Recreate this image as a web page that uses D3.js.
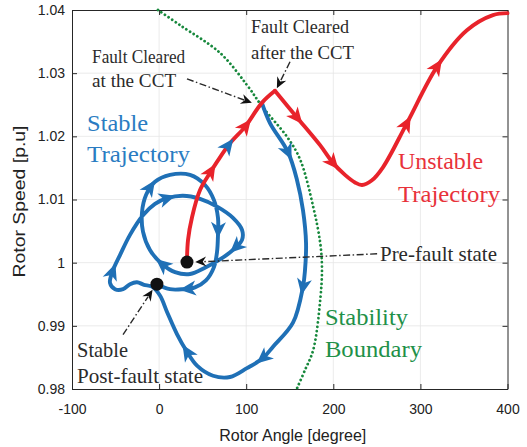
<!DOCTYPE html>
<html>
<head>
<meta charset="utf-8">
<script src="https://cdn.jsdelivr.net/npm/d3@7/dist/d3.min.js"></script>
<style>
  html, body { margin: 0; padding: 0; background: #fff; }
  svg { display: block; }
</style>
</head>
<body>
<svg id="chart" width="527" height="447"></svg>
<script>
// Axis ticks
const angleTicks = [-100, 0, 100, 200, 300, 400];
const speedTicks = [0.98, 0.99, 1.00, 1.01, 1.02, 1.03, 1.04];

// Operating points [angle, speed]
const preFaultState = [32, 1.0001];
const postFaultState = [-2.5, 0.9966];

// Fault-on trajectory: from the pre-fault state until clearing after the CCT
const faultOnAngle = [32, 33.2, 37.8, 47, 58.4, 67.6, 81.4, 98.6, 118, 133];
const faultOnSpeed = [1.0001, 1.0036, 1.0072, 1.0115, 1.0142, 1.0162, 1.0189, 1.0215, 1.0253, 1.0272];

// Unstable post-fault trajectory (cleared after the CCT)
const unstableAngle = [133, 158.3, 184.8, 199.6, 213.4, 224.9, 233, 244, 257, 284.6, 319, 353.4, 383.3, 400];
const unstableSpeed = [1.0272, 1.0230, 1.0186, 1.0158, 1.0139, 1.0127, 1.0123, 1.0130, 1.0151, 1.0221, 1.0310, 1.0368, 1.0392, 1.0395];

// Stable post-fault trajectory (cleared at the CCT), spiralling into the post-fault state
const stableAngle = [118, 127.3, 148, 158.3, 165.2, 168.7, 167.5, 165.2, 153.7, 130.8, 119.3, 100.9, 81.4, 61.9, 43.5, 32, 20.5, 9.1,
  1.0, -8.2, -17.3, -25.4, -33.4, -41.4, -50.6, -56.4, -52.9, -44.9, -33.4, -18.5, -4.7, 9.1, 27.4, 47, 67.6, 84.8, 95.2, 95.2, 87.1,
  72.2, 52.7, 35.5, 18.3, 3.3, -10.5, -18.5, -19.6, -15, -4.7, 12.5, 35.5, 52.7, 63, 67.6, 67.6, 66.5, 63, 53.8, 41.2, 27.4, 12.5, -2.5];
const stableSpeed = [1.0253, 1.0221, 1.0175, 1.0131, 1.0083, 1.0031, 0.9988, 0.9962, 0.9905, 0.9867, 0.9849, 0.9833, 0.9819, 0.9821, 0.9837, 0.9859, 0.9887, 0.9922,
  0.9948, 0.9962, 0.9965, 0.9969, 0.9966, 0.9958, 0.9958, 0.9968, 0.9988, 1.0012, 1.0044, 1.0075, 1.0093, 1.0102, 1.0106, 1.0101, 1.0088, 1.0071, 1.0052, 1.0036, 1.0023,
  1.0007, 0.9992, 0.9982, 0.9985, 0.9998, 1.0020, 1.0049, 1.0080, 1.0107, 1.0128, 1.0139, 1.0139, 1.0123, 1.0099, 1.0071, 1.0044, 1.0017, 0.9993, 0.9972, 0.9961, 0.9958, 0.9958, 0.9966];

// Stability boundary
const boundaryAngle = [-1.3, 24, 70, 101, 119, 147, 162, 177, 185, 187, 185, 177, 167.5, 158];
const boundarySpeed = [1.04, 1.0376, 1.0332, 1.0281, 1.0246, 1.0199, 1.0163, 1.0088, 1.0031, 0.9990, 0.9941, 0.9862, 0.9830, 0.98];

// Direction arrows along each trajectory [angle, speed]
const faultOnArrows = [[60.7, 1.0144], [95.2, 1.0221]];
const faultOnStableArrows = [[79.1, 1.0186]];
const unstableArrows = [[158.3, 1.0230], [199.6, 1.0158], [282.3, 1.0221], [320.2, 1.0310]];
const stableArrows = [[148, 1.0175], [165.2, 0.9962], [119.3, 0.9849], [32, 0.9859], [-52.9, 0.9985],
  [-10.5, 1.0120], [9.1, 1.0102], [67.6, 1.0052], [89.4, 1.0023], [3.3, 0.9996], [33.2, 0.9960]];

const BLUE = "#1f70b6", RED = "#e8232b", GREEN = "#17883c";
const SERIF = "'Liberation Serif', 'Times New Roman', serif";
const SANS = "'Liberation Sans', Arial, Helvetica, sans-serif";

const W = 527, H = 447;
const margin = { left: 72, right: 19.5, top: 10, bottom: 58 };
const svg = d3.select("#chart");

const x = d3.scaleLinear().domain([-100, 400]).range([margin.left, W - margin.right]);
const y = d3.scaleLinear().domain([0.98, 1.04]).range([H - margin.bottom, margin.top]);
const [x0, x1] = x.range(), [y0, y1] = y.range();

const zip = (a, b) => a.map((v, i) => [v, b[i]]);
const line = d3.line().x(d => x(d[0])).y(d => y(d[1])).curve(d3.curveCatmullRom.alpha(0.5));

// Grid
const grid = svg.append("g").attr("stroke", "#e6e6e6").attr("stroke-width", 0.8);
grid.selectAll(".gx").data(angleTicks.slice(1, -1)).join("line")
  .attr("x1", d => x(d)).attr("x2", d => x(d)).attr("y1", y0).attr("y2", y1);
grid.selectAll(".gy").data(speedTicks.slice(1, -1)).join("line")
  .attr("y1", d => y(d)).attr("y2", d => y(d)).attr("x1", x0).attr("x2", x1);

// Axes with inward ticks on all four sides
const fmt = d => String(+d.toFixed(2));
function styleAxis(g) {
  g.select(".domain").attr("stroke", "#262626");
  g.selectAll(".tick line").attr("stroke", "#262626");
  g.selectAll("text").attr("fill", "#222").attr("font-family", SANS).attr("font-size", 14);
}
svg.append("g").attr("transform", `translate(0,${y0})`)
  .call(d3.axisBottom(x).tickValues(angleTicks).tickFormat(fmt).tickSizeInner(-5).tickSizeOuter(0).tickPadding(15))
  .call(styleAxis);
svg.append("g").attr("transform", `translate(0,${y1})`)
  .call(d3.axisTop(x).tickValues(angleTicks).tickFormat("").tickSizeInner(-5).tickSizeOuter(0))
  .call(styleAxis);
svg.append("g").attr("transform", `translate(${x0},0)`)
  .call(d3.axisLeft(y).tickValues(speedTicks).tickFormat(fmt).tickSizeInner(-5).tickSizeOuter(0).tickPadding(7))
  .call(styleAxis);
svg.append("g").attr("transform", `translate(${x1},0)`)
  .call(d3.axisRight(y).tickValues(speedTicks).tickFormat("").tickSizeInner(-5).tickSizeOuter(0))
  .call(styleAxis);

svg.append("text").attr("x", (x0 + x1) / 2 + 3).attr("y", 441).attr("text-anchor", "middle")
  .attr("font-family", SANS).attr("font-size", 16).attr("fill", "#222")
  .attr("textLength", 147).attr("lengthAdjust", "spacingAndGlyphs")
  .text("Rotor Angle [degree]");
svg.append("text").attr("transform", `translate(25,${(y0 + y1) / 2 + 2}) rotate(-90)`).attr("text-anchor", "middle")
  .attr("font-family", SANS).attr("font-size", 16).attr("fill", "#222")
  .attr("textLength", 152).attr("lengthAdjust", "spacingAndGlyphs")
  .text("Rotor Speed [p.u]");

// Stability boundary
svg.append("path").attr("d", line(zip(boundaryAngle, boundarySpeed)))
  .attr("fill", "none").attr("stroke", GREEN).attr("stroke-width", 2.8)
  .attr("stroke-linecap", "round").attr("stroke-dasharray", "0.01 4.3");

// Trajectories
const traj = svg.append("g").attr("fill", "none").attr("stroke-width", 3.9)
  .attr("stroke-linejoin", "round").attr("stroke-linecap", "round");
const stablePath = traj.append("path").attr("d", line(zip(stableAngle, stableSpeed))).attr("stroke", BLUE);
const faultOnPath = traj.append("path").attr("d", line(zip(faultOnAngle, faultOnSpeed))).attr("stroke", RED);
const unstablePath = traj.append("path").attr("d", line(zip(unstableAngle, unstableSpeed))).attr("stroke", RED);

// Arrowheads, oriented along the drawn curve at the closest point
const bigHead = "M8.5,0 L-8,-7.5 L-3.5,0 L-8,7.5 Z";
const smallHead = "M0,0 L-11,-5 L-7.5,0 L-11,5 Z";
const arrowLayer = svg.append("g");
function addArrows(pathSel, pts, color) {
  const node = pathSel.node();
  const L = node.getTotalLength();
  const n = Math.ceil(L * 2);
  const samples = d3.range(n + 1).map(i => {
    const p = node.getPointAtLength(i * L / n);
    return { l: i * L / n, x: p.x, y: p.y };
  });
  pts.forEach(([a, s]) => {
    const px = x(a), py = y(s);
    const best = d3.least(samples, d => (d.x - px) ** 2 + (d.y - py) ** 2);
    const p1 = node.getPointAtLength(Math.max(0, best.l - 3));
    const p2 = node.getPointAtLength(Math.min(L, best.l + 3));
    const ang = Math.atan2(p2.y - p1.y, p2.x - p1.x) * 180 / Math.PI;
    arrowLayer.append("path").attr("d", bigHead).attr("fill", color)
      .attr("transform", `translate(${best.x},${best.y}) rotate(${ang})`);
  });
}
addArrows(stablePath, stableArrows, BLUE);
addArrows(faultOnPath, faultOnArrows, RED);
addArrows(faultOnPath, faultOnStableArrows, BLUE);
addArrows(unstablePath, unstableArrows, RED);

// Operating-point markers
svg.selectAll(".state").data([preFaultState, postFaultState]).join("circle")
  .attr("cx", d => x(d[0])).attr("cy", d => y(d[1])).attr("r", 6.5).attr("fill", "#111");

// Dash-dot leaders with arrowheads [from, to] in data units
const leaders = [
  [[32, 1.0291], [106.5, 1.0253]],
  [[150.3, 1.0318], [135.2, 1.0276]],
  [[250.3, 1.0014], [41.5, 1.0001]],
  [[-41.4, 0.9886], [-7.5, 0.9957]]
];
const lead = svg.append("g");
leaders.forEach(([a, b]) => {
  const ax = x(a[0]), ay = y(a[1]), bx = x(b[0]), by = y(b[1]);
  const ang = Math.atan2(by - ay, bx - ax);
  lead.append("line").attr("x1", ax).attr("y1", ay)
    .attr("x2", bx - 8 * Math.cos(ang)).attr("y2", by - 8 * Math.sin(ang))
    .attr("stroke", "#2a2a2a").attr("stroke-width", 1.4).attr("stroke-dasharray", "7,2.5,1.5,2.5");
  lead.append("path").attr("d", smallHead).attr("fill", "#111")
    .attr("transform", `translate(${bx},${by}) rotate(${ang * 180 / Math.PI})`);
});

// Text annotations [lines, anchor angle, baseline speeds, size, colour, widths]
const notes = [
  { lines: ["Fault Cleared", "at the CCT"], a: -76.9, s: [1.0316, 1.0278], size: 18, color: "#2b2b2b", w: [93, 84] },
  { lines: ["Fault Cleared", "after the CCT"], a: 105.5, s: [1.0363, 1.0322], size: 18, color: "#2b2b2b", w: [98, 103] },
  { lines: ["Stable", "Trajectory"], a: -82.7, s: [1.0208, 1.0159], size: 24, color: "#2a7cc2", w: [61, 103] },
  { lines: ["Unstable", "Trajectory"], a: 274.3, s: [1.0148, 1.0096], size: 24, color: "#e8323a", w: [85, 102] },
  { lines: ["Pre-fault state"], a: 253.6, s: [1.0003], size: 21, color: "#2b2b2b", w: [117] },
  { lines: ["Stability", "Boundary"], a: 190.4, s: [0.9901, 0.9851], size: 24, color: "#219048", w: [83, 97] },
  { lines: ["Stable", "Post-fault state"], a: -94.2, s: [0.9851, 0.9810], size: 21, color: "#2b2b2b", w: [51, 126] }
];
const txt = svg.append("g").attr("font-family", SERIF);
notes.forEach(n => n.lines.forEach((t, i) => {
  txt.append("text").attr("x", x(n.a)).attr("y", y(n.s[i]))
    .attr("font-size", n.size).attr("fill", n.color)
    .attr("textLength", n.w[i]).attr("lengthAdjust", "spacingAndGlyphs")
    .text(t);
}));
</script>
</body>
</html>
